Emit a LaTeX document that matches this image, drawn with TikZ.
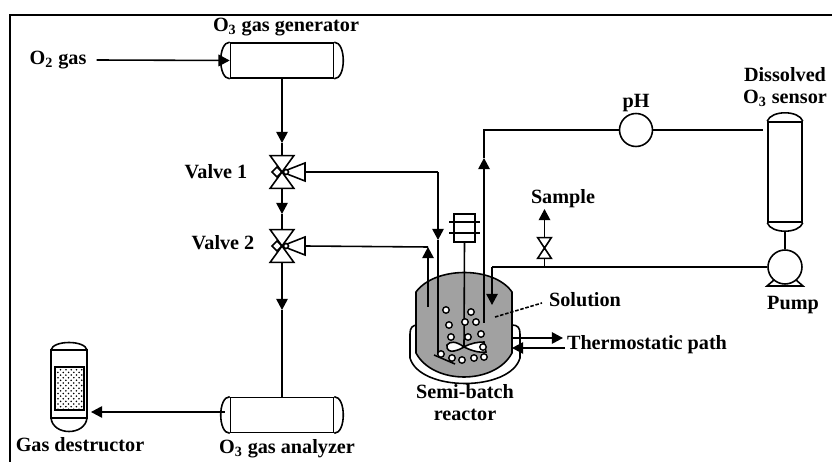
\documentclass[tikz,border=0pt]{standalone}
\usepackage{fontspec}
\setmainfont{Liberation Serif}
\usetikzlibrary{arrows.meta,patterns,calc}

\tikzset{
	pipe/.style = {line width = 0.9pt},
	tip/.style = {pipe, -{Triangle[length = 6.4pt, width = 6.6pt]}},
	lbl/.style = {font = \bfseries\fontsize{11.5}{12.5}\selectfont, inner sep = 0pt, align = center},
	hbox/.style = {draw, pipe, minimum width = 2.06cm, minimum height = 0.7cm, inner sep = 0pt},
	vbox/.style = {draw, pipe, minimum width = 0.68cm, inner sep = 0pt},
	valvebox/.style = {inner sep = 0pt},
	bubble/.style = {circle, draw, line width = 0.8pt, fill = white, minimum size = 0.13cm, inner sep = 0pt}
}

\newcommand{\hvessel}[3]{
	\node[hbox] (#1) at (#2,#3) {};
	\draw[pipe] (#1.north west) .. controls +(-12,0) and +(-12,0) .. (#1.south west);
	\draw[pipe] (#1.north east) .. controls +(12,0) and +(12,0) .. (#1.south east);
}
\newcommand{\valvesym}[5]{
	\node[valvebox, minimum width = #4 cm, minimum height = #5 cm] (#1) at (#2,#3) {};
	\draw[pipe] (#1.north west) -- (#1.north east) -- (#1.south west) -- (#1.south east) -- cycle;
}
\newcommand{\drivenvalve}[3]{
	\valvesym{#1}{#2}{#3}{0.46}{0.64}
	\path (#1) ++(23,0) coordinate (#1act);
	\draw[pipe] (#1.center) -- ($(#1act)+(0,-9)$) -- ($(#1act)+(0,9)$) -- cycle;
	\draw[pipe, fill = white] (#2+4,#3) circle (2.5);
	\draw[pipe] (#1.center) -- (#2-5,#3-5) -- (#2-10,#3) -- (#2-5,#3+5) -- cycle;
}

\begin{document}
\begin{tikzpicture}[x = 0.02cm, y = -0.02cm]
					\useasboundingbox (0,0) rectangle (832,462);
					\draw[line width = 1.5pt] (10,462) -- (10,15) -- (832,15);

					\hvessel{generator}{282}{60.5}
					\hvessel{analyzer}{282}{415}
					\drivenvalve{valvea}{282}{172}
					\drivenvalve{valveb}{282}{246}

					\node[lbl] (oxygen) at (58,60) {O\textsubscript{2} gas};
					\node[lbl] (generatorlabel) at (286,27) {O\textsubscript{3} gas generator};
					\node[lbl] (valvealabel) at (216,172) {Valve 1};
					\node[lbl] (valveblabel) at (223,243) {Valve 2};
					\node[lbl] (analyzerlabel) at (287,449) {O\textsubscript{3} gas analyzer};
					\node[lbl] (destructorlabel) at (80,445) {Gas destructor};
					\node[lbl] (phlabel) at (636,103) {pH};
					\node[lbl] (sensorlabel) at (785,87.5) {Dissolved\\O\textsubscript{3} sensor};
					\node[lbl] (samplelabel) at (563,199) {Sample};
					\node[lbl] (pumplabel) at (793,305) {Pump};
					\node[lbl] (solutionlabel) at (585,300) {Solution};
					\node[lbl] (pathlabel) at (647,345) {Thermostatic path};
					\node[lbl] (reactorlabel) at (465,403) {Semi-batch\\reactor};

					\draw[tip] (oxygen.east) ++(10,0) coordinate (oxygenend) -- (generator.west);

					\coordinate (gena) at (282,143);
					\draw[tip] (generator.south) -- (gena);
					\draw[pipe] (gena) -- (valvea.north);
					\coordinate (genb) at (282,214);
					\draw[tip] (valvea.south) -- (genb);
					\draw[pipe] (genb) -- (valveb.north);
					\coordinate (genc) at (282,310);
					\draw[tip] (valveb.south) -- (genc);
					\draw[pipe] (genc) -- (analyzer.north);

					\draw[pipe] (51,350) rectangle (87,418);
					\draw[pipe] (51,350) .. controls (53,340) and (85,340) .. (87,350);
					\draw[pipe] (51,418) .. controls (53,436) and (85,436) .. (87,418);
					\node[draw, line width = 1.4pt, pattern = crosshatch dots, pattern color = black, minimum width = 0.58cm, minimum height = 0.86cm, inner sep = 0pt] (packing) at (69.5,388.5) {};
					\coordinate (destructor) at (91,412);
					\draw[tip] (analyzer.west) ++(-5,-3) coordinate (analyzerout) -- (destructor);

					\draw[pipe, fill = white] (418,325) .. controls (412,325) and (410,328) .. (410,334) -- (410,358) .. controls (420,392) and (510,392) .. (520,358) -- (520,334) .. controls (520,328) and (518,325) .. (512,325) -- cycle;
					\draw[pipe, fill = black!37] (416,292) .. controls (435,266) and (494,266) .. (512,292) -- (512,353) .. controls (495,385) and (433,385) .. (416,353) -- cycle;

					\coordinate (valveaturn) at (438,172);
					\coordinate (spargermid) at (438,240);
					\coordinate (spargerend) at (438,355);
					\draw[pipe] (valveaact) -- (valveaturn);
					\draw[tip] (valveaturn) -- (spargermid);
					\draw[pipe] (spargermid) -- (spargerend);
					\draw[pipe] (434,355) -- (455,364);

					\coordinate (valvebturn) at (428,247);
					\coordinate (ventend) at (428,307);
					\draw[pipe] (valvebact) -- (valvebturn);
					\draw[tip] (ventend) -- (valvebturn);

					\node[draw, pipe, minimum width = 0.42cm, minimum height = 0.56cm, inner sep = 0pt] (motor) at (464.5,228) {};
					\draw[pipe] (449,222) -- (480,222);
					\draw[pipe] (449,233) -- (480,233);
					\coordinate (impeller) at (464,347);
					\draw[pipe] (motor.south) -- (impeller);
					\draw[pipe, fill = white] (impeller) .. controls (456,341) and (450,341) .. (447,345) .. controls (446,350) and (450,352) .. (454,351) .. controls (458,350) and (461,349) .. (impeller);
					\draw[pipe, fill = white] (impeller) .. controls (471,343) and (478,342) .. (484,342) -- (486,352) .. controls (478,353) and (470,350) .. (impeller);

					\foreach \bx/\by in {446/310, 471/312, 449/325, 465/322, 476/322, 451/337, 468/337, 481/334, 483/347, 441/354, 452/358, 462/360, 474/358, 484/357}
						\node[bubble] at (\bx,\by) {};

					\coordinate (outletend) at (484,323);
					\coordinate (outletmid) at (484,158);
					\coordinate (outletturn) at (484,130);
					\node[draw, pipe, circle, minimum size = 0.66cm, inner sep = 0pt] (ph) at (636,130) {};
					\node[vbox, minimum height = 2cm] (sensor) at (785,172) {};
					\draw[pipe] (sensor.north west) .. controls (771,110) and (799,110) .. (sensor.north east);
					\draw[pipe] (sensor.south west) .. controls (771,234) and (799,234) .. (sensor.south east);
					\coordinate (sensorin) at (763,130);
					\coordinate (sensorout) at (785,231);
					\draw[tip] (outletend) -- (outletmid);
					\draw[pipe] (outletmid) -- (outletturn) -- (ph.west);
					\draw[pipe] (ph.east) -- (sensorin);

					\node[draw, pipe, circle, minimum size = 0.68cm, inner sep = 0pt] (pump) at (785,267) {};
					\draw[pipe] (774,280) -- (767,286) -- (803,286) -- (796,280);
					\draw[pipe] (sensorout) -- (pump.north);

					\coordinate (pumpturn) at (492,267);
					\coordinate (returnend) at (492,305);
					\draw[pipe] (pump.west) -- (pumpturn);
					\draw[tip] (pumpturn) -- (returnend);

					\valvesym{samplevalve}{544.5}{248}{0.26}{0.4}
					\coordinate (sampletap) at (544.5,267);
					\coordinate (sampleend) at (544.5,209);
					\draw[pipe] (sampletap) -- (samplevalve.south);
					\draw[tip] (samplevalve.north) -- (sampleend);

					\draw[pipe, dash pattern = on 2pt off 1pt] (495,317) -- (542,303);

					\coordinate (pathout) at (563,338);
					\coordinate (pathin) at (565,348);
					\draw[tip] (511,338) -- (pathout);
					\draw[tip] (pathin) -- (512,348);
					\end{tikzpicture}
\end{document}
